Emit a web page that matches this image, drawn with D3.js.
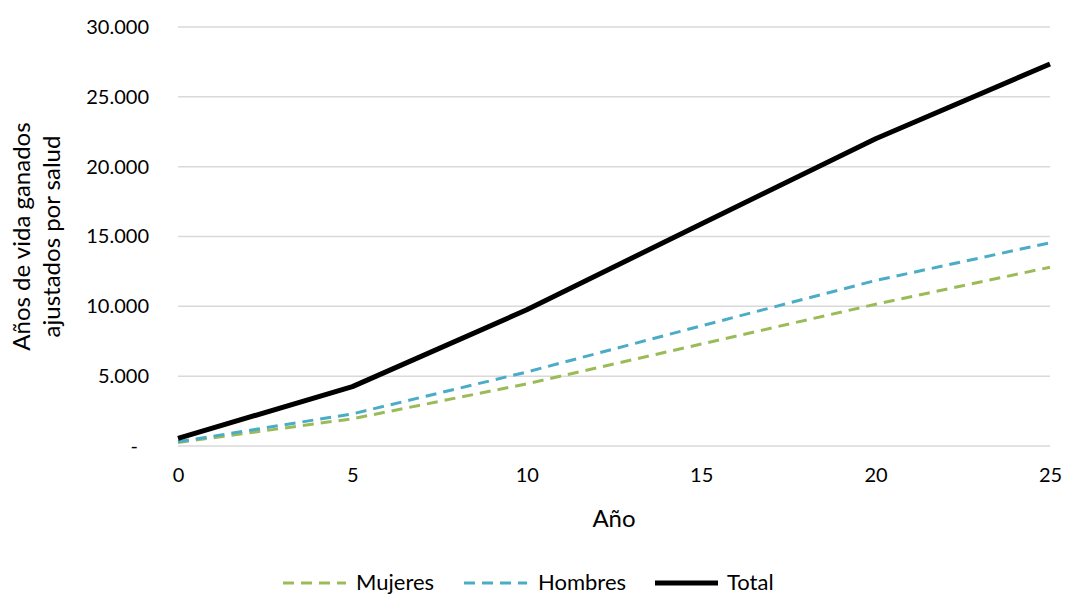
<!DOCTYPE html>
<html>
<head>
<meta charset="utf-8">
<script src="https://cdn.jsdelivr.net/npm/d3@7"></script>
<style>
  html, body { margin: 0; padding: 0; background: #fff; }
  svg { display: block; font-family: Lato, "Open Sans", sans-serif; }
</style>
</head>
<body>
<svg id="chart" width="1065" height="595"></svg>
<script>
// Años desde el inicio del programa
const years = [0, 5, 10, 15, 20, 25];
// Años de vida ganados ajustados por salud, por sexo y total
const mujeres = [250, 1950, 4450, 7300, 10150, 12800];
const hombres = [300, 2300, 5300, 8600, 11850, 14550];
const total   = [550, 4250, 9750, 15900, 22000, 27350];
const yTicks  = [0, 5000, 10000, 15000, 20000, 25000, 30000];
const xTicks  = [0, 5, 10, 15, 20, 25];

const series = [
  { name: "Mujeres", values: mujeres, color: "#9bbb59", width: 3, dash: "11,7" },
  { name: "Hombres", values: hombres, color: "#4bacc6", width: 3, dash: "11,7" },
  { name: "Total",   values: total,   color: "#000000", width: 5, dash: null }
];

const svg = d3.select("#chart");
const plot = { left: 178, right: 1050, top: 27, bottom: 446 };

const x = d3.scaleLinear().domain([0, 25]).range([plot.left, plot.right]);
const y = d3.scaleLinear().domain([0, 30000]).range([plot.bottom, plot.top]);

// Formato de miles con punto; el cero se muestra como guion
const fmt = v => v === 0 ? "-" : d3.format(",")(v).replace(/,/g, ".");

// Líneas de cuadrícula horizontales
svg.append("g")
  .selectAll("line")
  .data(yTicks)
  .join("line")
  .attr("x1", plot.left).attr("x2", plot.right)
  .attr("y1", d => y(d)).attr("y2", d => y(d))
  .attr("stroke", "#d9d9d9").attr("stroke-width", 1.5);

// Eje Y
const yAxis = svg.append("g")
  .attr("transform", `translate(${plot.left},0)`)
  .call(d3.axisLeft(y).tickValues(yTicks).tickFormat(fmt).tickSize(0).tickPadding(29));
yAxis.select(".domain").remove();
yAxis.selectAll("text")
  .attr("font-size", 20).attr("fill", "#000")
  .attr("font-family", "Lato, 'Open Sans', sans-serif");
yAxis.selectAll(".tick").filter(d => d === 0).select("text").attr("dx", -11);

// Eje X
const xAxis = svg.append("g")
  .attr("transform", `translate(0,${plot.bottom})`)
  .call(d3.axisBottom(x).tickValues(xTicks).tickFormat(d3.format("d")).tickSize(0).tickPadding(22));
xAxis.select(".domain").remove();
xAxis.selectAll("text")
  .attr("font-size", 20).attr("fill", "#000")
  .attr("font-family", "Lato, 'Open Sans', sans-serif");

// Títulos de los ejes
svg.append("text")
  .attr("x", (plot.left + plot.right) / 2).attr("y", 527)
  .attr("text-anchor", "middle").attr("font-size", 24).attr("fill", "#000")
  .text("Año");

const yTitle = svg.append("text")
  .attr("transform", `translate(0,${(plot.top + plot.bottom) / 2}) rotate(-90)`)
  .attr("text-anchor", "middle").attr("font-size", 24).attr("fill", "#000");
yTitle.append("tspan").attr("x", 0).attr("y", 30).text("Años de vida ganados");
yTitle.append("tspan").attr("x", 0).attr("y", 60).text("ajustados por salud");

// Series
const line = d3.line()
  .x((d, i) => x(years[i]))
  .y(d => y(d));

svg.append("g")
  .selectAll("path")
  .data(series)
  .join("path")
  .attr("d", s => line(s.values))
  .attr("fill", "none")
  .attr("stroke", s => s.color)
  .attr("stroke-width", s => s.width)
  .attr("stroke-dasharray", s => s.dash)
  .attr("stroke-linejoin", "round");

// Leyenda
const legendX = [283, 464, 655];
const legend = svg.append("g")
  .selectAll("g")
  .data(series)
  .join("g")
  .attr("transform", (s, i) => `translate(${legendX[i]},583)`);
legend.append("line")
  .attr("x1", 0).attr("x2", 63).attr("y1", 0).attr("y2", 0)
  .attr("stroke", s => s.color)
  .attr("stroke-width", s => s.width)
  .attr("stroke-dasharray", s => s.dash);
legend.append("text")
  .attr("x", (s, i) => [73, 74, 72][i]).attr("y", 7)
  .attr("font-size", 22).attr("fill", "#000")
  .text(s => s.name);
</script>
</body>
</html>
